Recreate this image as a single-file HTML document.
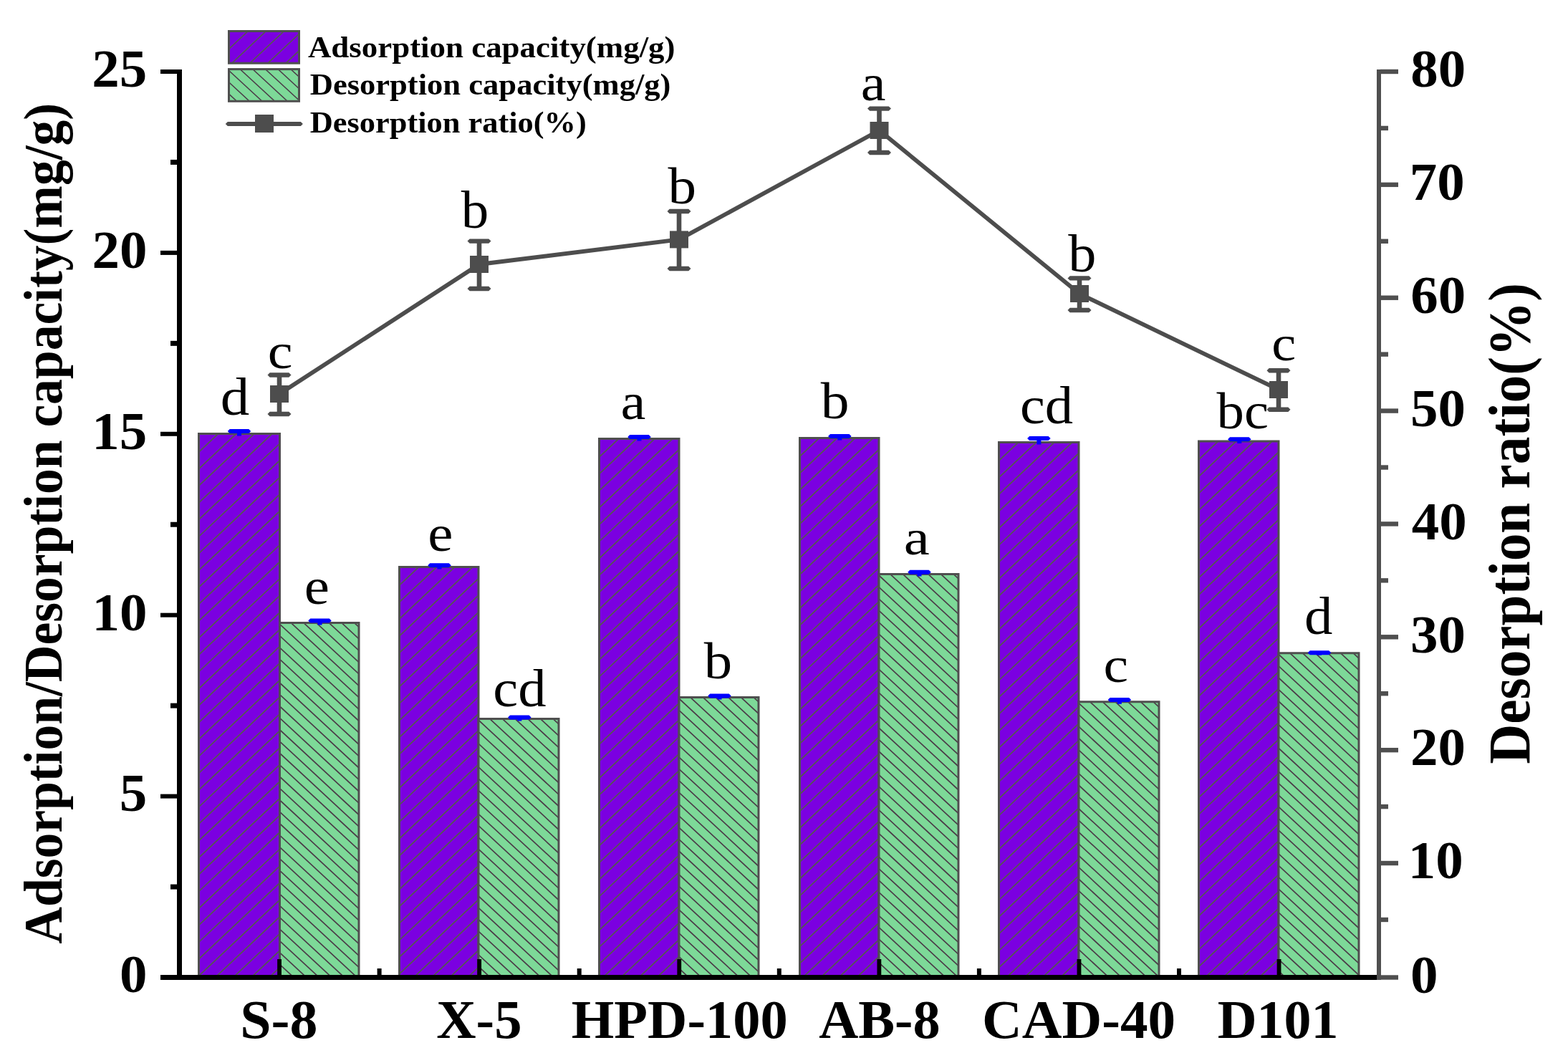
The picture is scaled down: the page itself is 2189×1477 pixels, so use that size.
<!DOCTYPE html><html><head><meta charset="utf-8"><title>Adsorption/Desorption chart</title><style>html,body{margin:0;padding:0;background:#fff;}svg{display:block;}text{font-family:'Liberation Serif', 'Times New Roman', serif;}</style></head><body>
<svg width="2189" height="1477" viewBox="0 0 2189 1477">
<rect width="2189" height="1477" fill="#fff"/>
<clipPath id="c0"><rect x="277.5" y="605.5" width="113" height="759"/></clipPath>
<rect x="277.5" y="605.5" width="113" height="759" fill="#7B00E1"/>
<path clip-path="url(#c0)" d="M281.72 603.5L-529.98 1366.5M306.82 603.5L-504.88 1366.5M331.92 603.5L-479.78 1366.5M357.02 603.5L-454.68 1366.5M382.12 603.5L-429.58 1366.5M407.22 603.5L-404.48 1366.5M432.32 603.5L-379.38 1366.5M457.42 603.5L-354.28 1366.5M482.52 603.5L-329.18 1366.5M507.62 603.5L-304.08 1366.5M532.72 603.5L-278.98 1366.5M557.82 603.5L-253.88 1366.5M582.92 603.5L-228.78 1366.5M608.02 603.5L-203.68 1366.5M633.12 603.5L-178.58 1366.5M658.22 603.5L-153.48 1366.5M683.32 603.5L-128.38 1366.5M708.42 603.5L-103.28 1366.5M733.52 603.5L-78.18 1366.5M758.62 603.5L-53.08 1366.5M783.72 603.5L-27.98 1366.5M808.82 603.5L-2.88 1366.5M833.92 603.5L22.22 1366.5M859.02 603.5L47.32 1366.5M884.12 603.5L72.42 1366.5M909.22 603.5L97.52 1366.5M934.32 603.5L122.62 1366.5M959.42 603.5L147.72 1366.5M984.52 603.5L172.82 1366.5M1009.62 603.5L197.92 1366.5M1034.72 603.5L223.02 1366.5M1059.82 603.5L248.12 1366.5M1084.92 603.5L273.22 1366.5M1110.02 603.5L298.32 1366.5M1135.12 603.5L323.42 1366.5M1160.22 603.5L348.52 1366.5M1185.32 603.5L373.62 1366.5" stroke="#535E47" stroke-width="1.6" fill="none"/>
<path d="M277.5 1364.5V605.5H390.5V1364.5" fill="none" stroke="#4F4F4F" stroke-width="3" stroke-linejoin="miter"/>
<clipPath id="c1"><rect x="390.5" y="869.5" width="110.5" height="495"/></clipPath>
<rect x="390.5" y="869.5" width="110.5" height="495" fill="#7DD998"/>
<path clip-path="url(#c1)" d="M-143.68 867.5L394.62 1366.5M-126.01 867.5L412.29 1366.5M-108.34 867.5L429.96 1366.5M-90.67 867.5L447.63 1366.5M-73 867.5L465.3 1366.5M-55.33 867.5L482.97 1366.5M-37.66 867.5L500.64 1366.5M-19.99 867.5L518.31 1366.5M-2.32 867.5L535.98 1366.5M15.35 867.5L553.65 1366.5M33.02 867.5L571.32 1366.5M50.69 867.5L588.99 1366.5M68.36 867.5L606.66 1366.5M86.03 867.5L624.33 1366.5M103.7 867.5L642 1366.5M121.37 867.5L659.67 1366.5M139.04 867.5L677.34 1366.5M156.71 867.5L695.01 1366.5M174.38 867.5L712.68 1366.5M192.05 867.5L730.35 1366.5M209.72 867.5L748.02 1366.5M227.39 867.5L765.69 1366.5M245.06 867.5L783.36 1366.5M262.73 867.5L801.03 1366.5M280.4 867.5L818.7 1366.5M298.07 867.5L836.37 1366.5M315.74 867.5L854.04 1366.5M333.41 867.5L871.71 1366.5M351.08 867.5L889.38 1366.5M368.75 867.5L907.05 1366.5M386.42 867.5L924.72 1366.5M404.09 867.5L942.39 1366.5M421.76 867.5L960.06 1366.5M439.43 867.5L977.73 1366.5M457.1 867.5L995.4 1366.5M474.77 867.5L1013.07 1366.5M492.44 867.5L1030.74 1366.5" stroke="#4B3C48" stroke-width="1.7" fill="none"/>
<path d="M390.5 1364.5V869.5H501V1364.5" fill="none" stroke="#4F4F4F" stroke-width="3" stroke-linejoin="miter"/>
<clipPath id="c2"><rect x="557.5" y="791.5" width="110.5" height="573"/></clipPath>
<rect x="557.5" y="791.5" width="110.5" height="573" fill="#7B00E1"/>
<path clip-path="url(#c2)" d="M561.72 789.5L-52.11 1366.5M586.82 789.5L-27.01 1366.5M611.92 789.5L-1.91 1366.5M637.02 789.5L23.19 1366.5M662.12 789.5L48.29 1366.5M687.22 789.5L73.39 1366.5M712.32 789.5L98.49 1366.5M737.42 789.5L123.59 1366.5M762.52 789.5L148.69 1366.5M787.62 789.5L173.79 1366.5M812.72 789.5L198.89 1366.5M837.82 789.5L223.99 1366.5M862.92 789.5L249.09 1366.5M888.02 789.5L274.19 1366.5M913.12 789.5L299.29 1366.5M938.22 789.5L324.39 1366.5M963.32 789.5L349.49 1366.5M988.42 789.5L374.59 1366.5M1013.52 789.5L399.69 1366.5M1038.62 789.5L424.79 1366.5M1063.72 789.5L449.89 1366.5M1088.82 789.5L474.99 1366.5M1113.92 789.5L500.09 1366.5M1139.02 789.5L525.19 1366.5M1164.12 789.5L550.29 1366.5M1189.22 789.5L575.39 1366.5M1214.32 789.5L600.49 1366.5M1239.42 789.5L625.59 1366.5M1264.52 789.5L650.69 1366.5" stroke="#535E47" stroke-width="1.6" fill="none"/>
<path d="M557.5 1364.5V791.5H668V1364.5" fill="none" stroke="#4F4F4F" stroke-width="3" stroke-linejoin="miter"/>
<clipPath id="c3"><rect x="668" y="1003.5" width="112" height="361"/></clipPath>
<rect x="668" y="1003.5" width="112" height="361" fill="#7DD998"/>
<path clip-path="url(#c3)" d="M275.18 1001.5L668.93 1366.5M292.85 1001.5L686.6 1366.5M310.52 1001.5L704.27 1366.5M328.19 1001.5L721.94 1366.5M345.86 1001.5L739.61 1366.5M363.53 1001.5L757.28 1366.5M381.2 1001.5L774.95 1366.5M398.87 1001.5L792.62 1366.5M416.54 1001.5L810.29 1366.5M434.21 1001.5L827.96 1366.5M451.88 1001.5L845.63 1366.5M469.55 1001.5L863.3 1366.5M487.22 1001.5L880.97 1366.5M504.89 1001.5L898.64 1366.5M522.56 1001.5L916.31 1366.5M540.23 1001.5L933.98 1366.5M557.9 1001.5L951.65 1366.5M575.57 1001.5L969.32 1366.5M593.24 1001.5L986.99 1366.5M610.91 1001.5L1004.66 1366.5M628.58 1001.5L1022.33 1366.5M646.25 1001.5L1040 1366.5M663.92 1001.5L1057.67 1366.5M681.59 1001.5L1075.34 1366.5M699.26 1001.5L1093.01 1366.5M716.93 1001.5L1110.68 1366.5M734.6 1001.5L1128.35 1366.5M752.27 1001.5L1146.02 1366.5M769.94 1001.5L1163.69 1366.5" stroke="#4B3C48" stroke-width="1.7" fill="none"/>
<path d="M668 1364.5V1003.5H780V1364.5" fill="none" stroke="#4F4F4F" stroke-width="3" stroke-linejoin="miter"/>
<clipPath id="c4"><rect x="836.5" y="612.5" width="111.5" height="752"/></clipPath>
<rect x="836.5" y="612.5" width="111.5" height="752" fill="#7B00E1"/>
<path clip-path="url(#c4)" d="M840.72 610.5L36.47 1366.5M865.82 610.5L61.57 1366.5M890.92 610.5L86.67 1366.5M916.02 610.5L111.77 1366.5M941.12 610.5L136.87 1366.5M966.22 610.5L161.97 1366.5M991.32 610.5L187.07 1366.5M1016.42 610.5L212.17 1366.5M1041.52 610.5L237.27 1366.5M1066.62 610.5L262.37 1366.5M1091.72 610.5L287.47 1366.5M1116.82 610.5L312.57 1366.5M1141.92 610.5L337.67 1366.5M1167.02 610.5L362.77 1366.5M1192.12 610.5L387.87 1366.5M1217.22 610.5L412.97 1366.5M1242.32 610.5L438.07 1366.5M1267.42 610.5L463.17 1366.5M1292.52 610.5L488.27 1366.5M1317.62 610.5L513.37 1366.5M1342.72 610.5L538.47 1366.5M1367.82 610.5L563.57 1366.5M1392.92 610.5L588.67 1366.5M1418.02 610.5L613.77 1366.5M1443.12 610.5L638.87 1366.5M1468.22 610.5L663.97 1366.5M1493.32 610.5L689.07 1366.5M1518.42 610.5L714.17 1366.5M1543.52 610.5L739.27 1366.5M1568.62 610.5L764.37 1366.5M1593.72 610.5L789.47 1366.5M1618.82 610.5L814.57 1366.5M1643.92 610.5L839.67 1366.5M1669.02 610.5L864.77 1366.5M1694.12 610.5L889.87 1366.5M1719.22 610.5L914.97 1366.5M1744.32 610.5L940.07 1366.5" stroke="#535E47" stroke-width="1.6" fill="none"/>
<path d="M836.5 1364.5V612.5H948V1364.5" fill="none" stroke="#4F4F4F" stroke-width="3" stroke-linejoin="miter"/>
<clipPath id="c5"><rect x="948" y="973.5" width="111" height="391"/></clipPath>
<rect x="948" y="973.5" width="111" height="391" fill="#7DD998"/>
<path clip-path="url(#c5)" d="M537.51 971.5L963.62 1366.5M555.18 971.5L981.29 1366.5M572.85 971.5L998.96 1366.5M590.52 971.5L1016.63 1366.5M608.19 971.5L1034.3 1366.5M625.86 971.5L1051.97 1366.5M643.53 971.5L1069.64 1366.5M661.2 971.5L1087.31 1366.5M678.87 971.5L1104.98 1366.5M696.54 971.5L1122.65 1366.5M714.21 971.5L1140.32 1366.5M731.88 971.5L1157.99 1366.5M749.55 971.5L1175.66 1366.5M767.22 971.5L1193.33 1366.5M784.89 971.5L1211 1366.5M802.56 971.5L1228.67 1366.5M820.23 971.5L1246.34 1366.5M837.9 971.5L1264.01 1366.5M855.57 971.5L1281.68 1366.5M873.24 971.5L1299.35 1366.5M890.91 971.5L1317.02 1366.5M908.58 971.5L1334.69 1366.5M926.25 971.5L1352.36 1366.5M943.92 971.5L1370.03 1366.5M961.59 971.5L1387.7 1366.5M979.26 971.5L1405.37 1366.5M996.93 971.5L1423.04 1366.5M1014.6 971.5L1440.71 1366.5M1032.27 971.5L1458.38 1366.5M1049.94 971.5L1476.05 1366.5" stroke="#4B3C48" stroke-width="1.7" fill="none"/>
<path d="M948 1364.5V973.5H1059V1364.5" fill="none" stroke="#4F4F4F" stroke-width="3" stroke-linejoin="miter"/>
<clipPath id="c6"><rect x="1116.5" y="611.5" width="110.5" height="753"/></clipPath>
<rect x="1116.5" y="611.5" width="110.5" height="753" fill="#7B00E1"/>
<path clip-path="url(#c6)" d="M1120.72 609.5L315.4 1366.5M1145.82 609.5L340.5 1366.5M1170.92 609.5L365.6 1366.5M1196.02 609.5L390.7 1366.5M1221.12 609.5L415.8 1366.5M1246.22 609.5L440.9 1366.5M1271.32 609.5L466 1366.5M1296.42 609.5L491.1 1366.5M1321.52 609.5L516.2 1366.5M1346.62 609.5L541.3 1366.5M1371.72 609.5L566.4 1366.5M1396.82 609.5L591.5 1366.5M1421.92 609.5L616.6 1366.5M1447.02 609.5L641.7 1366.5M1472.12 609.5L666.8 1366.5M1497.22 609.5L691.9 1366.5M1522.32 609.5L717 1366.5M1547.42 609.5L742.1 1366.5M1572.52 609.5L767.2 1366.5M1597.62 609.5L792.3 1366.5M1622.72 609.5L817.4 1366.5M1647.82 609.5L842.5 1366.5M1672.92 609.5L867.6 1366.5M1698.02 609.5L892.7 1366.5M1723.12 609.5L917.8 1366.5M1748.22 609.5L942.9 1366.5M1773.32 609.5L968 1366.5M1798.42 609.5L993.1 1366.5M1823.52 609.5L1018.2 1366.5M1848.62 609.5L1043.3 1366.5M1873.72 609.5L1068.4 1366.5M1898.82 609.5L1093.5 1366.5M1923.92 609.5L1118.6 1366.5M1949.02 609.5L1143.7 1366.5M1974.12 609.5L1168.8 1366.5M1999.22 609.5L1193.9 1366.5M2024.32 609.5L1219 1366.5" stroke="#535E47" stroke-width="1.6" fill="none"/>
<path d="M1116.5 1364.5V611.5H1227V1364.5" fill="none" stroke="#4F4F4F" stroke-width="3" stroke-linejoin="miter"/>
<clipPath id="c7"><rect x="1227" y="801.5" width="111" height="563"/></clipPath>
<rect x="1227" y="801.5" width="111" height="563" fill="#7DD998"/>
<path clip-path="url(#c7)" d="M622.14 799.5L1233.79 1366.5M639.81 799.5L1251.46 1366.5M657.48 799.5L1269.13 1366.5M675.15 799.5L1286.8 1366.5M692.82 799.5L1304.47 1366.5M710.49 799.5L1322.14 1366.5M728.16 799.5L1339.81 1366.5M745.83 799.5L1357.48 1366.5M763.5 799.5L1375.15 1366.5M781.17 799.5L1392.82 1366.5M798.84 799.5L1410.49 1366.5M816.51 799.5L1428.16 1366.5M834.18 799.5L1445.83 1366.5M851.85 799.5L1463.5 1366.5M869.52 799.5L1481.17 1366.5M887.19 799.5L1498.84 1366.5M904.86 799.5L1516.51 1366.5M922.53 799.5L1534.18 1366.5M940.2 799.5L1551.85 1366.5M957.87 799.5L1569.52 1366.5M975.54 799.5L1587.19 1366.5M993.21 799.5L1604.86 1366.5M1010.88 799.5L1622.53 1366.5M1028.55 799.5L1640.2 1366.5M1046.22 799.5L1657.87 1366.5M1063.89 799.5L1675.54 1366.5M1081.56 799.5L1693.21 1366.5M1099.23 799.5L1710.88 1366.5M1116.9 799.5L1728.55 1366.5M1134.57 799.5L1746.22 1366.5M1152.24 799.5L1763.89 1366.5M1169.91 799.5L1781.56 1366.5M1187.58 799.5L1799.23 1366.5M1205.25 799.5L1816.9 1366.5M1222.92 799.5L1834.57 1366.5M1240.59 799.5L1852.24 1366.5M1258.26 799.5L1869.91 1366.5M1275.93 799.5L1887.58 1366.5M1293.6 799.5L1905.25 1366.5M1311.27 799.5L1922.92 1366.5M1328.94 799.5L1940.59 1366.5" stroke="#4B3C48" stroke-width="1.7" fill="none"/>
<path d="M1227 1364.5V801.5H1338V1364.5" fill="none" stroke="#4F4F4F" stroke-width="3" stroke-linejoin="miter"/>
<clipPath id="c8"><rect x="1394.5" y="617.5" width="111.5" height="747"/></clipPath>
<rect x="1394.5" y="617.5" width="111.5" height="747" fill="#7B00E1"/>
<path clip-path="url(#c8)" d="M1398.72 615.5L599.79 1366.5M1423.82 615.5L624.89 1366.5M1448.92 615.5L649.99 1366.5M1474.02 615.5L675.09 1366.5M1499.12 615.5L700.19 1366.5M1524.22 615.5L725.29 1366.5M1549.32 615.5L750.39 1366.5M1574.42 615.5L775.49 1366.5M1599.52 615.5L800.59 1366.5M1624.62 615.5L825.69 1366.5M1649.72 615.5L850.79 1366.5M1674.82 615.5L875.89 1366.5M1699.92 615.5L900.99 1366.5M1725.02 615.5L926.09 1366.5M1750.12 615.5L951.19 1366.5M1775.22 615.5L976.29 1366.5M1800.32 615.5L1001.39 1366.5M1825.42 615.5L1026.49 1366.5M1850.52 615.5L1051.59 1366.5M1875.62 615.5L1076.69 1366.5M1900.72 615.5L1101.79 1366.5M1925.82 615.5L1126.89 1366.5M1950.92 615.5L1151.99 1366.5M1976.02 615.5L1177.09 1366.5M2001.12 615.5L1202.19 1366.5M2026.22 615.5L1227.29 1366.5M2051.32 615.5L1252.39 1366.5M2076.42 615.5L1277.49 1366.5M2101.52 615.5L1302.59 1366.5M2126.62 615.5L1327.69 1366.5M2151.72 615.5L1352.79 1366.5M2176.82 615.5L1377.89 1366.5M2201.92 615.5L1402.99 1366.5M2227.02 615.5L1428.09 1366.5M2252.12 615.5L1453.19 1366.5M2277.22 615.5L1478.29 1366.5M2302.32 615.5L1503.39 1366.5" stroke="#535E47" stroke-width="1.6" fill="none"/>
<path d="M1394.5 1364.5V617.5H1506V1364.5" fill="none" stroke="#4F4F4F" stroke-width="3" stroke-linejoin="miter"/>
<clipPath id="c9"><rect x="1506" y="979.8" width="112" height="384.7"/></clipPath>
<rect x="1506" y="979.8" width="112" height="384.7" fill="#7DD998"/>
<path clip-path="url(#c9)" d="M1095.51 977.8L1514.82 1366.5M1113.18 977.8L1532.49 1366.5M1130.85 977.8L1550.16 1366.5M1148.52 977.8L1567.83 1366.5M1166.19 977.8L1585.5 1366.5M1183.86 977.8L1603.17 1366.5M1201.53 977.8L1620.84 1366.5M1219.2 977.8L1638.51 1366.5M1236.87 977.8L1656.18 1366.5M1254.54 977.8L1673.85 1366.5M1272.21 977.8L1691.52 1366.5M1289.88 977.8L1709.19 1366.5M1307.55 977.8L1726.86 1366.5M1325.22 977.8L1744.53 1366.5M1342.89 977.8L1762.2 1366.5M1360.56 977.8L1779.87 1366.5M1378.23 977.8L1797.54 1366.5M1395.9 977.8L1815.21 1366.5M1413.57 977.8L1832.88 1366.5M1431.24 977.8L1850.55 1366.5M1448.91 977.8L1868.22 1366.5M1466.58 977.8L1885.89 1366.5M1484.25 977.8L1903.56 1366.5M1501.92 977.8L1921.23 1366.5M1519.59 977.8L1938.9 1366.5M1537.26 977.8L1956.57 1366.5M1554.93 977.8L1974.24 1366.5M1572.6 977.8L1991.91 1366.5M1590.27 977.8L2009.58 1366.5M1607.94 977.8L2027.25 1366.5" stroke="#4B3C48" stroke-width="1.7" fill="none"/>
<path d="M1506 1364.5V979.8H1618V1364.5" fill="none" stroke="#4F4F4F" stroke-width="3" stroke-linejoin="miter"/>
<clipPath id="c10"><rect x="1673.5" y="616" width="111.5" height="748.5"/></clipPath>
<rect x="1673.5" y="616" width="111.5" height="748.5" fill="#7B00E1"/>
<path clip-path="url(#c10)" d="M1677.72 614L877.19 1366.5M1702.82 614L902.29 1366.5M1727.92 614L927.39 1366.5M1753.02 614L952.49 1366.5M1778.12 614L977.59 1366.5M1803.22 614L1002.69 1366.5M1828.32 614L1027.79 1366.5M1853.42 614L1052.89 1366.5M1878.52 614L1077.99 1366.5M1903.62 614L1103.09 1366.5M1928.72 614L1128.19 1366.5M1953.82 614L1153.29 1366.5M1978.92 614L1178.39 1366.5M2004.02 614L1203.49 1366.5M2029.12 614L1228.59 1366.5M2054.22 614L1253.69 1366.5M2079.32 614L1278.79 1366.5M2104.42 614L1303.89 1366.5M2129.52 614L1328.99 1366.5M2154.62 614L1354.09 1366.5M2179.72 614L1379.19 1366.5M2204.82 614L1404.29 1366.5M2229.92 614L1429.39 1366.5M2255.02 614L1454.49 1366.5M2280.12 614L1479.59 1366.5M2305.22 614L1504.69 1366.5M2330.32 614L1529.79 1366.5M2355.42 614L1554.89 1366.5M2380.52 614L1579.99 1366.5M2405.62 614L1605.09 1366.5M2430.72 614L1630.19 1366.5M2455.82 614L1655.29 1366.5M2480.92 614L1680.39 1366.5M2506.02 614L1705.49 1366.5M2531.12 614L1730.59 1366.5M2556.22 614L1755.69 1366.5M2581.32 614L1780.79 1366.5" stroke="#535E47" stroke-width="1.6" fill="none"/>
<path d="M1673.5 1364.5V616H1785V1364.5" fill="none" stroke="#4F4F4F" stroke-width="3" stroke-linejoin="miter"/>
<clipPath id="c11"><rect x="1785" y="911.7" width="112" height="452.8"/></clipPath>
<rect x="1785" y="911.7" width="112" height="452.8" fill="#7DD998"/>
<path clip-path="url(#c11)" d="M1303.83 909.7L1796.61 1366.5M1321.5 909.7L1814.28 1366.5M1339.17 909.7L1831.95 1366.5M1356.84 909.7L1849.62 1366.5M1374.51 909.7L1867.29 1366.5M1392.18 909.7L1884.96 1366.5M1409.85 909.7L1902.63 1366.5M1427.52 909.7L1920.3 1366.5M1445.19 909.7L1937.97 1366.5M1462.86 909.7L1955.64 1366.5M1480.53 909.7L1973.31 1366.5M1498.2 909.7L1990.98 1366.5M1515.87 909.7L2008.65 1366.5M1533.54 909.7L2026.32 1366.5M1551.21 909.7L2043.99 1366.5M1568.88 909.7L2061.66 1366.5M1586.55 909.7L2079.33 1366.5M1604.22 909.7L2097 1366.5M1621.89 909.7L2114.67 1366.5M1639.56 909.7L2132.34 1366.5M1657.23 909.7L2150.01 1366.5M1674.9 909.7L2167.68 1366.5M1692.57 909.7L2185.35 1366.5M1710.24 909.7L2203.02 1366.5M1727.91 909.7L2220.69 1366.5M1745.58 909.7L2238.36 1366.5M1763.25 909.7L2256.03 1366.5M1780.92 909.7L2273.7 1366.5M1798.59 909.7L2291.37 1366.5M1816.26 909.7L2309.04 1366.5M1833.93 909.7L2326.71 1366.5M1851.6 909.7L2344.38 1366.5M1869.27 909.7L2362.05 1366.5M1886.94 909.7L2379.72 1366.5" stroke="#4B3C48" stroke-width="1.7" fill="none"/>
<path d="M1785 1364.5V911.7H1897V1364.5" fill="none" stroke="#4F4F4F" stroke-width="3" stroke-linejoin="miter"/>
<rect x="331" y="602" width="6" height="6.5" fill="#0000FF"/>
<polygon points="317.75,602 320.75,599 347.25,599 350.25,602 347.25,605 320.75,605" fill="#0000FF"/>
<rect x="443.5" y="866.4" width="6" height="6.1" fill="#0000FF"/>
<polygon points="430.25,866.4 433.25,863.4 459.75,863.4 462.75,866.4 459.75,869.4 433.25,869.4" fill="#0000FF"/>
<rect x="610.5" y="789.3" width="6" height="5.2" fill="#0000FF"/>
<polygon points="597.25,789.3 600.25,786.3 626.75,786.3 629.75,789.3 626.75,792.3 600.25,792.3" fill="#0000FF"/>
<rect x="722.3" y="1001.4" width="6" height="5.1" fill="#0000FF"/>
<polygon points="709.05,1001.4 712.05,998.4 738.55,998.4 741.55,1001.4 738.55,1004.4 712.05,1004.4" fill="#0000FF"/>
<rect x="889.5" y="610" width="6" height="5.5" fill="#0000FF"/>
<polygon points="876.25,610 879.25,607 905.75,607 908.75,610 905.75,613 879.25,613" fill="#0000FF"/>
<rect x="1001.5" y="971.4" width="6" height="5.1" fill="#0000FF"/>
<polygon points="988.25,971.4 991.25,968.4 1017.75,968.4 1020.75,971.4 1017.75,974.4 991.25,974.4" fill="#0000FF"/>
<rect x="1169.3" y="609" width="6" height="5.5" fill="#0000FF"/>
<polygon points="1156.05,609 1159.05,606 1185.55,606 1188.55,609 1185.55,612 1159.05,612" fill="#0000FF"/>
<rect x="1280.5" y="798.7" width="6" height="5.8" fill="#0000FF"/>
<polygon points="1267.25,798.7 1270.25,795.7 1296.75,795.7 1299.75,798.7 1296.75,801.7 1270.25,801.7" fill="#0000FF"/>
<rect x="1447.4" y="612" width="6" height="8.5" fill="#0000FF"/>
<polygon points="1434.15,612 1437.15,609 1463.65,609 1466.65,612 1463.65,615 1437.15,615" fill="#0000FF"/>
<rect x="1559.9" y="977" width="6" height="5.8" fill="#0000FF"/>
<polygon points="1546.65,977 1549.65,974 1576.15,974 1579.15,977 1576.15,980 1549.65,980" fill="#0000FF"/>
<rect x="1727.3" y="613.3" width="6" height="5.7" fill="#0000FF"/>
<polygon points="1714.05,613.3 1717.05,610.3 1743.55,610.3 1746.55,613.3 1743.55,616.3 1717.05,616.3" fill="#0000FF"/>
<rect x="1839" y="911.2" width="6" height="3.5" fill="#0000FF"/>
<polygon points="1825.75,911.2 1828.75,908.2 1855.25,908.2 1858.25,911.2 1855.25,914.2 1828.75,914.2" fill="#0000FF"/>
<rect x="224" y="1361" width="1698" height="7" fill="#000"/>
<rect x="247" y="97" width="7" height="1271" fill="#000"/>
<rect x="224" y="1361.5" width="24" height="6" fill="#000"/>
<rect x="224" y="1108.6" width="24" height="6" fill="#000"/>
<rect x="224" y="855.7" width="24" height="6" fill="#000"/>
<rect x="224" y="602.8" width="24" height="6" fill="#000"/>
<rect x="224" y="349.9" width="24" height="6" fill="#000"/>
<rect x="224" y="97" width="24" height="6" fill="#000"/>
<rect x="238" y="1234.55" width="10" height="7" fill="#000"/>
<rect x="238" y="981.65" width="10" height="7" fill="#000"/>
<rect x="238" y="728.75" width="10" height="7" fill="#000"/>
<rect x="238" y="475.85" width="10" height="7" fill="#000"/>
<rect x="238" y="222.95" width="10" height="7" fill="#000"/>
<rect x="526.6" y="1352" width="6" height="10" fill="#000"/>
<rect x="805.7" y="1352" width="6" height="10" fill="#000"/>
<rect x="1084.8" y="1352" width="6" height="10" fill="#000"/>
<rect x="1363.9" y="1352" width="6" height="10" fill="#000"/>
<rect x="1643" y="1352" width="6" height="10" fill="#000"/>
<rect x="387.15" y="1339" width="5.8" height="23" fill="#000"/>
<rect x="666.25" y="1339" width="5.8" height="23" fill="#000"/>
<rect x="945.35" y="1339" width="5.8" height="23" fill="#000"/>
<rect x="1224.45" y="1339" width="5.8" height="23" fill="#000"/>
<rect x="1503.55" y="1339" width="5.8" height="23" fill="#000"/>
<rect x="1782.65" y="1339" width="5.8" height="23" fill="#000"/>
<rect x="1922" y="97" width="6" height="1271" fill="#4F4F4F"/>
<rect x="1927" y="1361.3" width="25" height="6.4" fill="#4F4F4F"/>
<rect x="1927" y="1201.82" width="25" height="6.4" fill="#4F4F4F"/>
<rect x="1927" y="1043.96" width="25" height="6.4" fill="#4F4F4F"/>
<rect x="1927" y="886.1" width="25" height="6.4" fill="#4F4F4F"/>
<rect x="1927" y="728.24" width="25" height="6.4" fill="#4F4F4F"/>
<rect x="1927" y="570.38" width="25" height="6.4" fill="#4F4F4F"/>
<rect x="1927" y="412.52" width="25" height="6.4" fill="#4F4F4F"/>
<rect x="1927" y="254.66" width="25" height="6.4" fill="#4F4F4F"/>
<rect x="1927" y="96.8" width="25" height="6.4" fill="#4F4F4F"/>
<rect x="1927" y="1280.75" width="11" height="6.4" fill="#4F4F4F"/>
<rect x="1927" y="1122.89" width="11" height="6.4" fill="#4F4F4F"/>
<rect x="1927" y="965.03" width="11" height="6.4" fill="#4F4F4F"/>
<rect x="1927" y="807.17" width="11" height="6.4" fill="#4F4F4F"/>
<rect x="1927" y="649.31" width="11" height="6.4" fill="#4F4F4F"/>
<rect x="1927" y="491.45" width="11" height="6.4" fill="#4F4F4F"/>
<rect x="1927" y="333.59" width="11" height="6.4" fill="#4F4F4F"/>
<rect x="1927" y="175.73" width="11" height="6.4" fill="#4F4F4F"/>
<polyline points="390,550 669,369 948,334.4 1227.5,182 1507,410 1785,544" fill="none" stroke="#4D4D4D" stroke-width="5.8" stroke-linejoin="round"/>
<rect x="386.7" y="523.5" width="6.6" height="54.5" fill="#4D4D4D"/>
<polygon points="373.5,523.5 376.7,520.3 403.3,520.3 406.5,523.5 403.3,526.7 376.7,526.7" fill="#4D4D4D"/>
<polygon points="373.5,578 376.7,574.8 403.3,574.8 406.5,578 403.3,581.2 376.7,581.2" fill="#4D4D4D"/>
<rect x="377" y="538" width="26" height="24" fill="#4D4D4D"/>
<rect x="665.7" y="336.6" width="6.6" height="66.4" fill="#4D4D4D"/>
<polygon points="652.5,336.6 655.7,333.4 682.3,333.4 685.5,336.6 682.3,339.8 655.7,339.8" fill="#4D4D4D"/>
<polygon points="652.5,403 655.7,399.8 682.3,399.8 685.5,403 682.3,406.2 655.7,406.2" fill="#4D4D4D"/>
<rect x="656" y="357" width="26" height="24" fill="#4D4D4D"/>
<rect x="944.7" y="295" width="6.6" height="80" fill="#4D4D4D"/>
<polygon points="931.5,295 934.7,291.8 961.3,291.8 964.5,295 961.3,298.2 934.7,298.2" fill="#4D4D4D"/>
<polygon points="931.5,375 934.7,371.8 961.3,371.8 964.5,375 961.3,378.2 934.7,378.2" fill="#4D4D4D"/>
<rect x="935" y="322.4" width="26" height="24" fill="#4D4D4D"/>
<rect x="1224.2" y="151.6" width="6.6" height="61.4" fill="#4D4D4D"/>
<polygon points="1211,151.6 1214.2,148.4 1240.8,148.4 1244,151.6 1240.8,154.8 1214.2,154.8" fill="#4D4D4D"/>
<polygon points="1211,213 1214.2,209.8 1240.8,209.8 1244,213 1240.8,216.2 1214.2,216.2" fill="#4D4D4D"/>
<rect x="1214.5" y="170" width="26" height="24" fill="#4D4D4D"/>
<rect x="1503.7" y="388.4" width="6.6" height="44.6" fill="#4D4D4D"/>
<polygon points="1490.5,388.4 1493.7,385.2 1520.3,385.2 1523.5,388.4 1520.3,391.6 1493.7,391.6" fill="#4D4D4D"/>
<polygon points="1490.5,433 1493.7,429.8 1520.3,429.8 1523.5,433 1520.3,436.2 1493.7,436.2" fill="#4D4D4D"/>
<rect x="1494" y="398" width="26" height="24" fill="#4D4D4D"/>
<rect x="1781.7" y="517.3" width="6.6" height="54.5" fill="#4D4D4D"/>
<polygon points="1768.5,517.3 1771.7,514.1 1798.3,514.1 1801.5,517.3 1798.3,520.5 1771.7,520.5" fill="#4D4D4D"/>
<polygon points="1768.5,571.8 1771.7,568.6 1798.3,568.6 1801.5,571.8 1798.3,575 1771.7,575" fill="#4D4D4D"/>
<rect x="1772" y="532" width="26" height="24" fill="#4D4D4D"/>
<clipPath id="c12"><rect x="319.5" y="43.5" width="98" height="44.7"/></clipPath>
<rect x="319.5" y="43.5" width="98" height="44.7" fill="#7B00E1"/>
<path clip-path="url(#c12)" d="M323.22 41.5L271.41 90.2M348.32 41.5L296.51 90.2M373.42 41.5L321.61 90.2M398.52 41.5L346.71 90.2M423.62 41.5L371.81 90.2M448.72 41.5L396.91 90.2" stroke="#535E47" stroke-width="1.5" fill="none"/>
<rect x="319.5" y="43.5" width="98" height="44.7" fill="none" stroke="#4F4F4F" stroke-width="3"/>
<clipPath id="c13"><rect x="319.5" y="96.6" width="98" height="44.7"/></clipPath>
<rect x="319.5" y="96.6" width="98" height="44.7" fill="#7DD998"/>
<path clip-path="url(#c13)" d="M279.97 94.6L332.73 143.3M297.64 94.6L350.4 143.3M315.31 94.6L368.07 143.3M332.98 94.6L385.74 143.3M350.65 94.6L403.41 143.3M368.32 94.6L421.08 143.3M385.99 94.6L438.75 143.3M403.66 94.6L456.42 143.3" stroke="#4B3C48" stroke-width="1.5" fill="none"/>
<rect x="319.5" y="96.6" width="98" height="44.7" fill="none" stroke="#4F4F4F" stroke-width="3"/>
<polygon points="314.8,172.9 317.8,169.9 419.9,169.9 422.9,172.9 419.9,175.9 317.8,175.9" fill="#4D4D4D"/>
<rect x="356" y="160" width="26" height="25" fill="#4D4D4D"/>
<g>
<text transform="translate(307.67,579.46) scale(1.0951,1)" font-size="73.86" font-weight="normal" fill="#000">d</text>
<text transform="translate(424.63,843.29) scale(1.1114,1)" font-size="71.25" font-weight="normal" fill="#000">e</text>
<text transform="translate(597.13,769.29) scale(1.1114,1)" font-size="71.25" font-weight="normal" fill="#000">e</text>
<text transform="translate(688.25,986.37) scale(1.0774,1)" font-size="73" font-weight="normal" fill="#000">cd</text>
<text transform="translate(866.45,585.18) scale(1.0932,1)" font-size="71.79" font-weight="normal" fill="#000">a</text>
<text transform="translate(982.8,947.27) scale(1.0801,1)" font-size="72.86" font-weight="normal" fill="#000">b</text>
<text transform="translate(1145.7,584.29) scale(1.1184,1)" font-size="71.14" font-weight="normal" fill="#000">b</text>
<text transform="translate(1261.66,774.29) scale(1.1488,1)" font-size="70.74" font-weight="normal" fill="#000">a</text>
<text transform="translate(1423.96,591.37) scale(1.0759,1)" font-size="73" font-weight="normal" fill="#000">cd</text>
<text transform="translate(1540.59,952.21) scale(1.1326,1)" font-size="68.75" font-weight="normal" fill="#000">c</text>
<text transform="translate(1698.6,598.07) scale(1.0530,1)" font-size="72.86" font-weight="normal" fill="#000">bc</text>
<text transform="translate(1821.05,885.07) scale(1.0757,1)" font-size="73.14" font-weight="normal" fill="#000">d</text>
<text transform="translate(373.66,514.31) scale(1.1335,1)" font-size="69.17" font-weight="normal" fill="#000">c</text>
<text transform="translate(643.7,318.27) scale(1.0501,1)" font-size="73.29" font-weight="normal" fill="#000">b</text>
<text transform="translate(932.6,284.27) scale(1.0861,1)" font-size="72.86" font-weight="normal" fill="#000">b</text>
<text transform="translate(1201.86,140.48) scale(1.0833,1)" font-size="72.21" font-weight="normal" fill="#000">a</text>
<text transform="translate(1491.3,379.17) scale(1.0721,1)" font-size="73" font-weight="normal" fill="#000">b</text>
<text transform="translate(1775.34,503.09) scale(1.0837,1)" font-size="70.63" font-weight="normal" fill="#000">c</text>
<text transform="translate(167.1,1385.3) scale(1.0400,1)" font-size="74" font-weight="bold">0</text>
<text transform="translate(166.71,1132.4) scale(1.0400,1)" font-size="74" font-weight="bold">5</text>
<text transform="translate(128.62,879.5) scale(1.0400,1)" font-size="74" font-weight="bold">10</text>
<text transform="translate(128.23,626.6) scale(1.0400,1)" font-size="74" font-weight="bold">15</text>
<text transform="translate(128.62,373.7) scale(1.0400,1)" font-size="74" font-weight="bold">20</text>
<text transform="translate(128.23,120.8) scale(1.0400,1)" font-size="74" font-weight="bold">25</text>
<text transform="translate(1968.92,1385.8) scale(1.0400,1)" font-size="74" font-weight="bold">0</text>
<text transform="translate(1965.84,1226.32) scale(1.0400,1)" font-size="74" font-weight="bold">10</text>
<text transform="translate(1968.92,1068.46) scale(1.0400,1)" font-size="74" font-weight="bold">20</text>
<text transform="translate(1968.92,910.6) scale(1.0400,1)" font-size="74" font-weight="bold">30</text>
<text transform="translate(1970.85,752.74) scale(1.0400,1)" font-size="74" font-weight="bold">40</text>
<text transform="translate(1968.92,594.88) scale(1.0400,1)" font-size="74" font-weight="bold">50</text>
<text transform="translate(1969.31,437.02) scale(1.0400,1)" font-size="74" font-weight="bold">60</text>
<text transform="translate(1967.77,279.16) scale(1.0400,1)" font-size="74" font-weight="bold">70</text>
<text transform="translate(1969.31,121.3) scale(1.0400,1)" font-size="74" font-weight="bold">80</text>
<text transform="translate(335.22,1448.5) scale(1.0311,1)" font-size="75.5" font-weight="bold">S-8</text>
<text transform="translate(609.17,1448.5) scale(1.0163,1)" font-size="75.5" font-weight="bold">X-5</text>
<text transform="translate(797.75,1448.5) scale(1.0143,1)" font-size="75.5" font-weight="bold">HPD-100</text>
<text transform="translate(1143.14,1448.5) scale(1.0104,1)" font-size="75.5" font-weight="bold">AB-8</text>
<text transform="translate(1371.04,1448.5) scale(1.0219,1)" font-size="75.5" font-weight="bold">CAD-40</text>
<text transform="translate(1699.68,1448.5) scale(1.0066,1)" font-size="75.5" font-weight="bold">D101</text>
<text transform="translate(429.95,79.9) scale(1.0445,1)" font-size="43" font-weight="bold">Adsorption capacity(mg/g)</text>
<text transform="translate(432.71,132.1) scale(1.0613,1)" font-size="42" font-weight="bold">Desorption capacity(mg/g)</text>
<text transform="translate(432.71,185.4) scale(1.0578,1)" font-size="42" font-weight="bold">Desorption ratio(%)</text>
<text transform="translate(85.6,1317.72) rotate(-90) scale(0.9288,1)" font-size="77" font-weight="bold">Adsorption/Desorption capacity(mg/g)</text>
<text transform="translate(2135.3,1066.44) rotate(-90) scale(0.9420,1)" font-size="82" font-weight="bold">Desorption ratio(%)</text>
</g>
</svg></body></html>
